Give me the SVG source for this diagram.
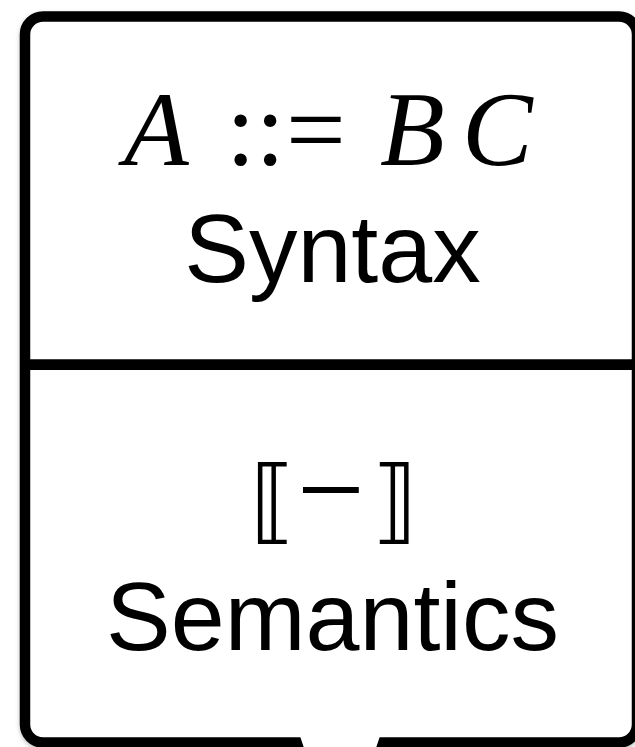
<svg xmlns="http://www.w3.org/2000/svg" width="635" height="747" viewBox="0 0 635 747">
  <style>
    .frame { fill: #ffffff; stroke: #000000; stroke-width: 10.5; }
    .divider { stroke: #000000; stroke-width: 10.7; fill: none; }
    .math { font-family: "Liberation Serif", "DejaVu Serif", serif; fill: #000000; }
    .it { font-style: italic; }
    .label { font-family: "Liberation Sans", Arial, sans-serif; font-size: 97px; fill: #000000; text-anchor: middle; }
    .br { font-family: "DejaVu Sans", sans-serif; fill: #000000; }
  </style>
  <defs>
    <filter id="shadow" x="-5%" y="-5%" width="110%" height="110%">
      <feDropShadow dx="0" dy="2" stdDeviation="2" flood-color="#000000" flood-opacity="0.25"/>
    </filter>
  </defs>
  <rect width="635" height="747" fill="#ffffff"/>
  <g id="node-box">
    <rect class="frame" x="25" y="16.5" width="612" height="726" rx="18" ry="18" filter="url(#shadow)"/>
    <polygon points="300,736 380,736 376,748 304,748" fill="#ffffff"/>
  </g>
  <g id="connectors">
    <line class="divider" x1="25" y1="364.7" x2="640" y2="364.7"/>
  </g>
  <g id="node-syntax">
    <text class="math" font-size="106" y="165">
      <tspan class="it" x="124">A</tspan>
      <tspan x="226">::</tspan>
      <tspan x="286">=</tspan>
      <tspan class="it" x="380">B</tspan>
      <tspan class="it" x="462">C</tspan>
    </text>
    <text class="label" x="332.5" y="282">Syntax</text>
  </g>
  <g id="node-semantics">
    <text class="br" font-size="92" x="250" y="532">⟦</text>
    <text class="math" font-size="120" x="297" y="530">−</text>
    <text class="br" font-size="92" x="372" y="532">⟧</text>
    <text class="label" x="332.5" y="650">Semantics</text>
  </g>
</svg>
